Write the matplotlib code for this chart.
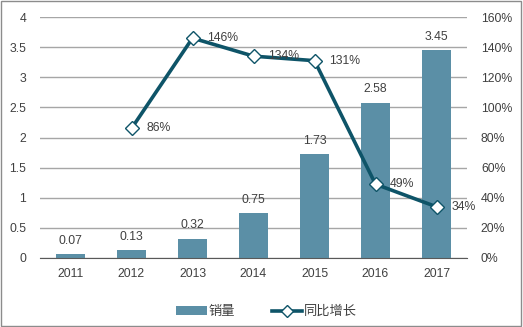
import matplotlib
matplotlib.use("Agg")
import matplotlib.pyplot as plt
from matplotlib.lines import Line2D
from matplotlib.patches import Patch, Rectangle

plt.rcParams['font.family'] = ['Liberation Sans', 'Noto Sans CJK SC', 'DejaVu Sans']

years = ['2011', '2012', '2013', '2014', '2015', '2016', '2017']
sales = [0.07, 0.13, 0.32, 0.75, 1.73, 2.58, 3.45]
growth_years = ['2012', '2013', '2014', '2015', '2016', '2017']
growth = [86, 146, 134, 131, 49, 34]

bar_color = '#5b8fa6'
line_color = '#0e5468'
grid_color = '#a6a6a6'
text_color = '#404040'

fig = plt.figure(figsize=(5.23, 3.27), dpi=100)
ax = fig.add_axes([40/523, 1 - 258/327, 427/523, 241/327])
ax2 = ax.twinx()

x = list(range(len(years)))
ax.bar(x, sales, width=0.49, color=bar_color, zorder=2)
for xi, v in zip(x, sales):
    ax.text(xi, v + 0.12, f'{v:.2f}', ha='center', va='bottom', fontsize=8.8, color=text_color)

ax.set_ylim(0, 4)
ax.set_yticks([0, 0.5, 1, 1.5, 2, 2.5, 3, 3.5, 4])
ax.set_yticklabels(['0', '0.5', '1', '1.5', '2', '2.5', '3', '3.5', '4'])
ax.set_xlim(-0.5, len(years) - 0.5)
ax.set_xticks(x)
ax.set_xticklabels(years)
ax.yaxis.grid(True, color=grid_color, linewidth=1)
ax.set_axisbelow(True)
for s in ['top', 'right', 'left']:
    ax.spines[s].set_visible(False)
ax.spines['bottom'].set_color('#595959')
ax.tick_params(axis='both', length=0, labelsize=8.8, colors=text_color)
ax.tick_params(axis='y', pad=10)
ax.tick_params(axis='x', pad=7)

gx = [years.index(y) for y in growth_years]
ax2.plot(gx, growth, color=line_color, linewidth=2.6, marker='D', markersize=7,
         markerfacecolor='white', markeredgecolor=line_color, markeredgewidth=1, zorder=3)
for xi, v in zip(gx, growth):
    ax2.text(xi + 0.24, v, f'{v}%', ha='left', va='center', fontsize=8.8, color=text_color)
ax2.set_ylim(0, 160)
ax2.set_yticks(range(0, 161, 20))
ax2.set_yticklabels([f'{t}%' for t in range(0, 161, 20)])
for s in ['top', 'right', 'left', 'bottom']:
    ax2.spines[s].set_visible(False)
ax2.tick_params(axis='y', length=0, labelsize=8.8, colors=text_color, pad=10)

handles = [Patch(facecolor=bar_color, edgecolor='none'),
           Line2D([0], [0], color=line_color, linewidth=2.6, marker='D', markersize=6,
                  markerfacecolor='white', markeredgecolor=line_color)]
fig.legend(handles, ['销量', '同比增长'], loc='center', bbox_to_anchor=(0.51, 1 - 312/327),
           ncol=2, frameon=False, fontsize=9.5, handlelength=2.3, columnspacing=2.8,
           handletextpad=0.15, labelcolor=text_color)

fig.add_artist(Rectangle((0.002, 0.003), 0.995, 0.994, transform=fig.transFigure,
                         fill=False, edgecolor='#8c8c8c', linewidth=1))

fig.savefig('out.png', dpi=100)
